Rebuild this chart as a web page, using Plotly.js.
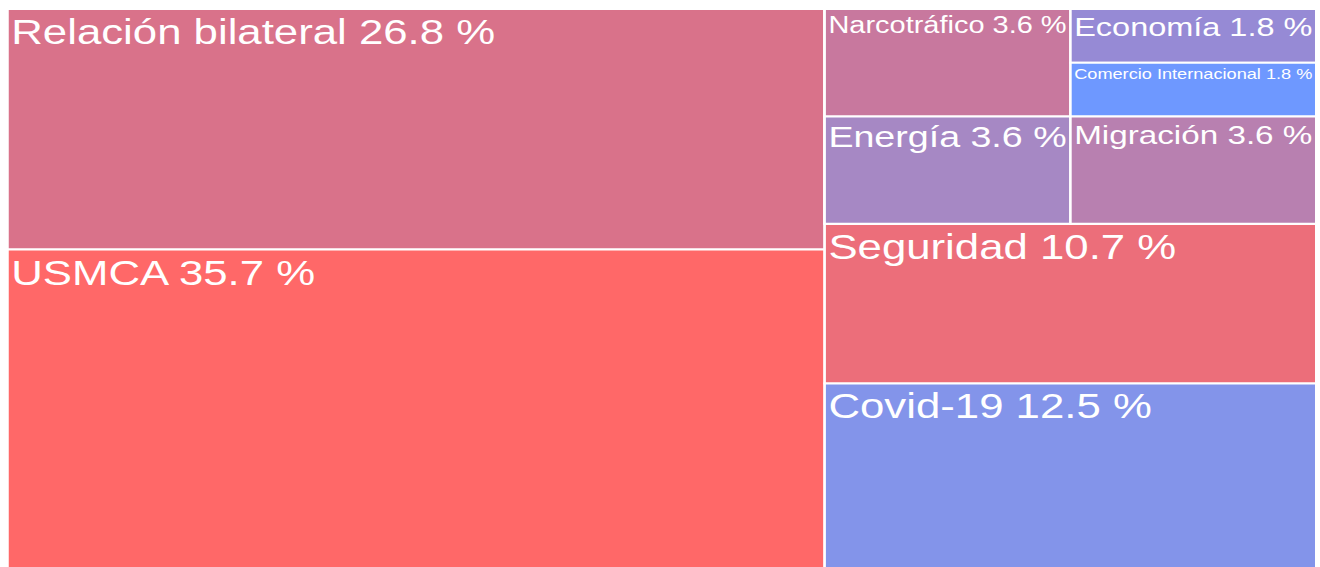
<!DOCTYPE html>
<html>
<head>
<meta charset="utf-8">
<script src="https://cdn.plot.ly/plotly-3.0.1.min.js"></script>
<style>
html,body{margin:0;padding:0;background:#fff;overflow:hidden;}
#chart{width:1056px;height:570px;transform:scaleX(1.25);transform-origin:0 0;}
</style>
</head>
<body>
<div id="chart"></div>
<script>
// Leaf categories (display order) and their percentages
const categories = ["Relación bilateral", "USMCA", "Narcotráfico", "Energía", "Economía", "Comercio Internacional", "Migración", "Seguridad", "Covid-19"];
const values = [26.8, 35.7, 3.6, 3.6, 1.8, 1.8, 3.6, 10.7, 12.5];
const colors = ["#D9728A", "#FF6868", "#C8789E", "#A688C4", "#968AD5", "#6E98FF", "#B880B0", "#EC6E7A", "#8394EA"];
// Layout blocks (invisible grouping used only to reproduce the tiling)
const blockOf = ["A", "A", "D", "D", "E", "E", "E", "B", "B"];
const blockIds = ["R", "A", "B", "C", "D", "E"];
const blockParents = ["", "R", "R", "B", "C", "C"];

const ids = [], labels = [], parents = [], vals = [], cols = [], tmpl = [];
blockIds.forEach((b, i) => {
  ids.push(b); labels.push(""); parents.push(blockParents[i]); vals.push(0); cols.push("#ffffff"); tmpl.push("");
});
categories.forEach((c, i) => {
  ids.push("leaf" + i); labels.push(c); parents.push(blockOf[i]); vals.push(values[i]); cols.push(colors[i]);
  tmpl.push("%{label} %{value} %");
});

const trace = {
  type: "treemap",
  ids: ids,
  labels: labels,
  parents: parents,
  values: vals,
  branchvalues: "remainder",
  sort: false,
  texttemplate: tmpl,
  textposition: "top left",
  textfont: {family: "Liberation Sans, Arial, sans-serif", size: 35, color: "#ffffff"},
  marker: {colors: cols, line: {color: "#ffffff", width: 2}, pad: {t: 0, l: 0, r: 0, b: 0}, depthfade: false},
  pathbar: {visible: false},
  tiling: {packing: "slice-dice", pad: 0},
  hoverinfo: "label+value"
};

const layout = {
  width: 1056,
  height: 570,
  margin: {l: 6, r: 3, t: 9, b: 0, pad: 0},
  paper_bgcolor: "#ffffff",
  showlegend: false
};

Plotly.newPlot("chart", [trace], layout, {displayModeBar: false, staticPlot: true});
</script>
</body>
</html>
